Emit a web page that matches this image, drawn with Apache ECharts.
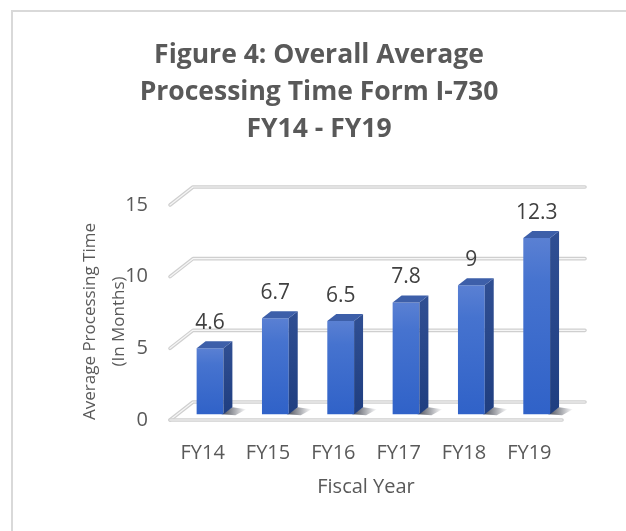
<!DOCTYPE html>
<html>
<head>
<meta charset="utf-8">
<script src="https://cdn.jsdelivr.net/npm/echarts@6/dist/echarts.min.js"></script>
<style>
  html, body { margin: 0; padding: 0; background: #ffffff; }
  #chart { width: 626px; height: 531px; }
</style>
</head>
<body>
<div id="chart"></div>
<script>
// ---- data ----
const titleLines = ['Figure 4: Overall Average', 'Processing Time Form I-730', 'FY14 - FY19'];
const categories = ['FY14', 'FY15', 'FY16', 'FY17', 'FY18', 'FY19'];
const values = [4.6, 6.7, 6.5, 7.8, 9, 12.3];
const yTicks = [0, 5, 10, 15];
const yAxisTitle = 'Average Processing Time\n(In Months)';
const xAxisTitle = 'Fiscal Year';

// ---- style / projection constants ----
const FONT = 'Open Sans';
const DEPTH_X = -23, DEPTH_Y = 18;      // back wall -> front edge of floor
const BAR_FRONT = 0.68, BAR_BACK = 0.29; // depth fractions of bar faces
const BAR_W_RATIO = 0.41;

const chart = echarts.init(document.getElementById('chart'), null, { renderer: 'canvas' });

function gridLine(params, api) {
  const cs = params.coordSys;
  const v = api.value(1);
  const y = api.coord([0, v])[1];
  const xl = cs.x, xr = cs.x + cs.width;
  const pts = [[xl + DEPTH_X, y + DEPTH_Y], [xl, y], [xr, y]];
  const children = [
    { type: 'polyline', shape: { points: pts }, style: { stroke: '#cfcfcf', lineWidth: 3.6, fill: null, lineJoin: 'round', lineCap: 'round' } },
    { type: 'polyline', shape: { points: pts }, style: { stroke: '#f6f6f6', lineWidth: 1.2, fill: null, lineJoin: 'round', lineCap: 'round' } }
  ];
  if (v === yTicks[0]) {
    const fp = [[xl + DEPTH_X, y + DEPTH_Y], [xr + DEPTH_X, y + DEPTH_Y]];
    children.push(
      { type: 'polyline', shape: { points: fp }, style: { stroke: '#cfcfcf', lineWidth: 3.6, fill: null, lineCap: 'round' } },
      { type: 'polyline', shape: { points: fp }, style: { stroke: '#f6f6f6', lineWidth: 1.2, fill: null, lineCap: 'round' } }
    );
  }
  return { type: 'group', children: children };
}

function bar3d(params, api) {
  const i = api.value(0);
  const v = api.value(1);
  const base = api.coord([i, 0]);
  const top = api.coord([i, v]);
  const band = api.size([1, 0])[0];
  const w = band * BAR_W_RATIO;
  const fx = DEPTH_X * BAR_FRONT, fy = DEPTH_Y * BAR_FRONT;
  const dx = DEPTH_X * (BAR_BACK - BAR_FRONT), dy = DEPTH_Y * (BAR_BACK - BAR_FRONT);
  const xl = base[0] + fx - w / 2, xr = base[0] + fx + w / 2;
  const yb = base[1] + fy, yt = top[1] + fy;
  return {
    type: 'group',
    children: [
      { // shadow on floor
        type: 'polygon',
        shape: { points: [[xr - 2, yb], [xr + dx, yb + dy], [xr + dx + 14, yb + dy + 2], [xr + 12, yb + 1]] },
        style: { fill: new echarts.graphic.LinearGradient(0, 0, 1, 0, [
          { offset: 0, color: 'rgba(10,15,30,0.75)' }, { offset: 1, color: 'rgba(10,15,30,0)' }]) }
      },
      { // front face
        type: 'rect',
        shape: { x: xl, y: yt, width: w, height: yb - yt },
        style: { fill: new echarts.graphic.LinearGradient(0, 0, 0, 1, [
          { offset: 0, color: '#5a80d3' }, { offset: 0.25, color: '#4673cf' }, { offset: 1, color: '#3062c8' }]) }
      },
      { // side face
        type: 'polygon',
        shape: { points: [[xr, yt], [xr + dx, yt + dy], [xr + dx, yb + dy], [xr, yb]] },
        style: { fill: new echarts.graphic.LinearGradient(0, 0, 0, 1, [
          { offset: 0, color: '#304f93' }, { offset: 1, color: '#1f3e80' }]) }
      },
      { // top face
        type: 'polygon',
        shape: { points: [[xl, yt], [xl + dx, yt + dy], [xr + dx, yt + dy], [xr, yt]] },
        style: { fill: '#3d5fa9' }
      },
      { // data label
        type: 'text',
        style: { text: String(values[i]), x: (xl + xr) / 2, y: yt - 25, align: 'center', verticalAlign: 'middle',
          font: 'normal 21px "' + FONT + '"', fill: '#404040' }
      }
    ]
  };
}

const option = {
  backgroundColor: '#ffffff',
  animation: false,
  title: {
    text: titleLines.join('\n'),
    left: 314, top: 32, textAlign: 'center',
    textStyle: { fontFamily: FONT, fontWeight: 'bold', fontSize: 26.5, lineHeight: 37, color: '#595959' }
  },
  graphic: [{
    type: 'rect', shape: { x: 12, y: 11, width: 800, height: 800 },
    style: { fill: null, stroke: '#d9d9d9', lineWidth: 2 }, z: 0
  }],
  grid: [
    { left: 193, right: 41, top: 187, bottom: 129 },   // back wall
    { left: 170, right: 64, top: 205, bottom: 111 }    // front plane
  ],
  xAxis: [
    { gridIndex: 0, type: 'category', data: categories, show: false },
    { gridIndex: 1, type: 'category', data: categories,
      axisLine: { show: false }, axisTick: { show: false },
      axisLabel: { margin: 23, fontFamily: FONT, fontSize: 20, color: '#595959' },
      name: xAxisTitle, nameLocation: 'middle', nameGap: 57, nameMoveOverlap: false,
      nameTextStyle: { fontFamily: FONT, fontSize: 20, color: '#595959' } }
  ],
  yAxis: [
    { gridIndex: 0, type: 'value', min: 0, max: 15, interval: 5, show: false, splitLine: { show: false } },
    { gridIndex: 1, type: 'value', min: 0, max: 15, interval: 5,
      axisLine: { show: false }, axisTick: { show: false }, splitLine: { show: false },
      axisLabel: { margin: 22, fontFamily: FONT, fontSize: 20, color: '#595959' },
      name: yAxisTitle, nameLocation: 'middle', nameGap: 36, nameRotate: 90, nameMoveOverlap: false,
      nameTextStyle: { fontFamily: FONT, fontSize: 17, lineHeight: 29, color: '#595959', padding: [0, 18, 0, 0] } }
  ],
  series: [
    { type: 'custom', xAxisIndex: 0, yAxisIndex: 0, z: 1, silent: true,
      data: yTicks.map(v => [0, v]), renderItem: gridLine },
    { type: 'custom', xAxisIndex: 0, yAxisIndex: 0, z: 3, silent: true,
      data: values.map((v, i) => [i, v]), renderItem: bar3d }
  ]
};
chart.setOption(option);
</script>
</body>
</html>
